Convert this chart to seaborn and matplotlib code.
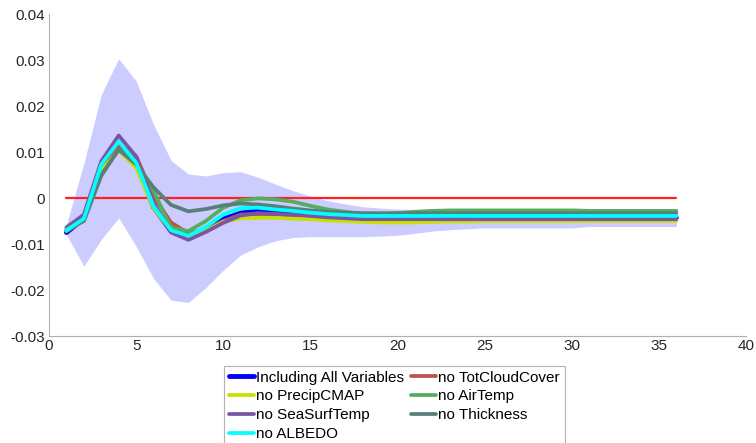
import numpy as np
import pandas as pd
import matplotlib
matplotlib.use("Agg")
import matplotlib.pyplot as plt
import seaborn as sns

lags = list(range(1, 37))

including_all = [-0.0075, -0.0045, 0.0070, 0.0117, 0.0080, -0.0020, -0.0072, -0.0083, -0.0066, -0.0046,
                 -0.0033, -0.0028, -0.0029, -0.0032, -0.0035, -0.0039, -0.0040, -0.0042, -0.0043, -0.0043,
                 -0.0043, -0.0043, -0.0043, -0.0043, -0.0043, -0.0043, -0.0043, -0.0043, -0.0043, -0.0043,
                 -0.0043, -0.0043, -0.0043, -0.0043, -0.0043, -0.0043]
no_totcloud = [-0.0070, -0.0045, 0.0065, 0.0115, 0.0091, 0.0004, -0.0053, -0.0077, -0.0068, -0.0050,
               -0.0036, -0.0035, -0.0035, -0.0039, -0.0040, -0.0043, -0.0044, -0.0045, -0.0046, -0.0046,
               -0.0046, -0.0046, -0.0046, -0.0046, -0.0046, -0.0046, -0.0046, -0.0046, -0.0046, -0.0046,
               -0.0046, -0.0046, -0.0046, -0.0046, -0.0046, -0.0046]
no_precip = [-0.0072, -0.0048, 0.0060, 0.0103, 0.0066, -0.0022, -0.0072, -0.0086, -0.0072, -0.0052,
             -0.0044, -0.0043, -0.0043, -0.0045, -0.0046, -0.0049, -0.0050, -0.0052, -0.0053, -0.0053,
             -0.0053, -0.0052, -0.0051, -0.0051, -0.0050, -0.0050, -0.0050, -0.0050, -0.0050, -0.0050,
             -0.0050, -0.0050, -0.0050, -0.0050, -0.0050, -0.0050]
no_airtemp = [-0.0070, -0.0050, 0.0048, 0.0106, 0.0078, 0.0015, -0.0064, -0.0072, -0.0050, -0.0021,
              -0.0005, -0.0001, -0.0003, -0.0008, -0.0017, -0.0025, -0.0030, -0.0034, -0.0035, -0.0033,
              -0.0030, -0.0028, -0.0027, -0.0027, -0.0027, -0.0027, -0.0027, -0.0027, -0.0027, -0.0027,
              -0.0028, -0.0028, -0.0028, -0.0028, -0.0028, -0.0028]
no_seasurf = [-0.0064, -0.0036, 0.0080, 0.0136, 0.0090, -0.0010, -0.0075, -0.0091, -0.0074, -0.0054,
              -0.0038, -0.0033, -0.0035, -0.0036, -0.0039, -0.0042, -0.0044, -0.0046, -0.0046, -0.0046,
              -0.0046, -0.0046, -0.0046, -0.0046, -0.0046, -0.0046, -0.0046, -0.0046, -0.0046, -0.0046,
              -0.0046, -0.0046, -0.0046, -0.0046, -0.0046, -0.0046]
no_thickness = [-0.0068, -0.0050, 0.0050, 0.0105, 0.0073, 0.0023, -0.0015, -0.0029, -0.0024, -0.0016,
                -0.0012, -0.0014, -0.0018, -0.0023, -0.0027, -0.0030, -0.0032, -0.0033, -0.0033, -0.0033,
                -0.0033, -0.0033, -0.0033, -0.0033, -0.0033, -0.0033, -0.0033, -0.0033, -0.0033, -0.0033,
                -0.0033, -0.0033, -0.0033, -0.0033, -0.0033, -0.0033]
no_albedo = [-0.0070, -0.0045, 0.0073, 0.0123, 0.0077, -0.0018, -0.0070, -0.0082, -0.0063, -0.0036,
             -0.0022, -0.0021, -0.0025, -0.0028, -0.0032, -0.0035, -0.0037, -0.0039, -0.0039, -0.0039,
             -0.0039, -0.0039, -0.0039, -0.0039, -0.0039, -0.0039, -0.0039, -0.0039, -0.0039, -0.0039,
             -0.0039, -0.0039, -0.0039, -0.0039, -0.0039, -0.0039]

band_upper = [-0.0058, 0.0075, 0.0225, 0.0303, 0.0254, 0.0160, 0.0082, 0.0052, 0.0048, 0.0055,
              0.0057, 0.0045, 0.0030, 0.0016, 0.0004, -0.0006, -0.0013, -0.0019, -0.0022, -0.0024,
              -0.0025, -0.0025, -0.0025, -0.0025, -0.0025, -0.0025, -0.0025, -0.0025, -0.0025, -0.0025,
              -0.0025, -0.0025, -0.0025, -0.0025, -0.0025, -0.0025]
band_lower = [-0.0080, -0.0148, -0.0090, -0.0043, -0.0105, -0.0175, -0.0222, -0.0227, -0.0195, -0.0157,
              -0.0124, -0.0106, -0.0093, -0.0086, -0.0084, -0.0084, -0.0084, -0.0084, -0.0083, -0.0081,
              -0.0077, -0.0072, -0.0069, -0.0067, -0.0065, -0.0065, -0.0065, -0.0065, -0.0065, -0.0065,
              -0.0062, -0.0062, -0.0062, -0.0062, -0.0062, -0.0062]

series_names = ["Including All Variables", "no TotCloudCover", "no PrecipCMAP", "no AirTemp",
                "no SeaSurfTemp", "no Thickness", "no ALBEDO"]
series_values = [including_all, no_totcloud, no_precip, no_airtemp, no_seasurf, no_thickness, no_albedo]
series_colors = ["#0000ff", "#bf5050", "#c8e000", "#55ad5e", "#7b55a3", "#587f7c", "#00ffff"]
series_widths = [3.5, 2.7, 2.7, 2.7, 2.7, 2.7, 2.7]

x_ticks = [0, 5, 10, 15, 20, 25, 30, 35, 40]
y_ticks = [-0.03, -0.02, -0.01, 0, 0.01, 0.02, 0.03, 0.04]
y_tick_labels = ["-0.03", "-0.02", "-0.01", "0", "0.01", "0.02", "0.03", "0.04"]

sns.set_style("white")
plt.rcParams["font.family"] = ["Liberation Sans", "DejaVu Sans"]

fig = plt.figure(figsize=(7.56, 4.43), dpi=100)
ax = fig.add_axes([49 / 756, 1 - 336 / 443, (746 - 49) / 756, (336 - 14) / 443])

ax.fill_between(lags, band_lower, band_upper, color="#ccccff", linewidth=0, zorder=1)
sns.lineplot(x=lags, y=[0] * len(lags), color="#ff2020", linewidth=1.6, ax=ax, zorder=2)

handles = []
for name, vals, col, lw in zip(series_names, series_values, series_colors, series_widths):
    sns.lineplot(x=lags, y=vals, color=col, linewidth=lw, ax=ax, label=name, zorder=3, legend=False)
    handles.append(ax.lines[-1])

ax.set_xlim(0, 40)
ax.set_ylim(-0.03, 0.04)
ax.set_xticks(x_ticks)
ax.set_xticklabels([str(t) for t in x_ticks])
ax.set_yticks(y_ticks)
ax.set_yticklabels(y_tick_labels)

for s in ["top", "right"]:
    ax.spines[s].set_visible(False)
for s in ["left", "bottom"]:
    ax.spines[s].set_color("#b0b0b0")
    ax.spines[s].set_linewidth(0.8)
ax.tick_params(direction="in", length=5, width=0.8, color="#b0b0b0", labelsize=11,
               labelcolor="#262626", pad=3)
ax.tick_params(axis="x", pad=2)
ax.set_xlabel("")
ax.set_ylabel("")

order = [0, 2, 4, 6, 1, 3, 5]
leg = fig.legend([handles[i] for i in order], [series_names[i] for i in order],
                 loc="upper left", bbox_to_anchor=(224 / 756, 1 - 366 / 443), ncol=2,
                 fontsize=11, frameon=True, fancybox=False, handlelength=1.65,
                 handletextpad=0.15, columnspacing=0.45, labelspacing=0.32,
                 borderpad=0.3, borderaxespad=0)
leg.get_frame().set_edgecolor("#a0a0a0")
leg.get_frame().set_linewidth(0.8)
for t in leg.get_texts():
    t.set_color("#000000")

fig.savefig("out.png", dpi=100)
